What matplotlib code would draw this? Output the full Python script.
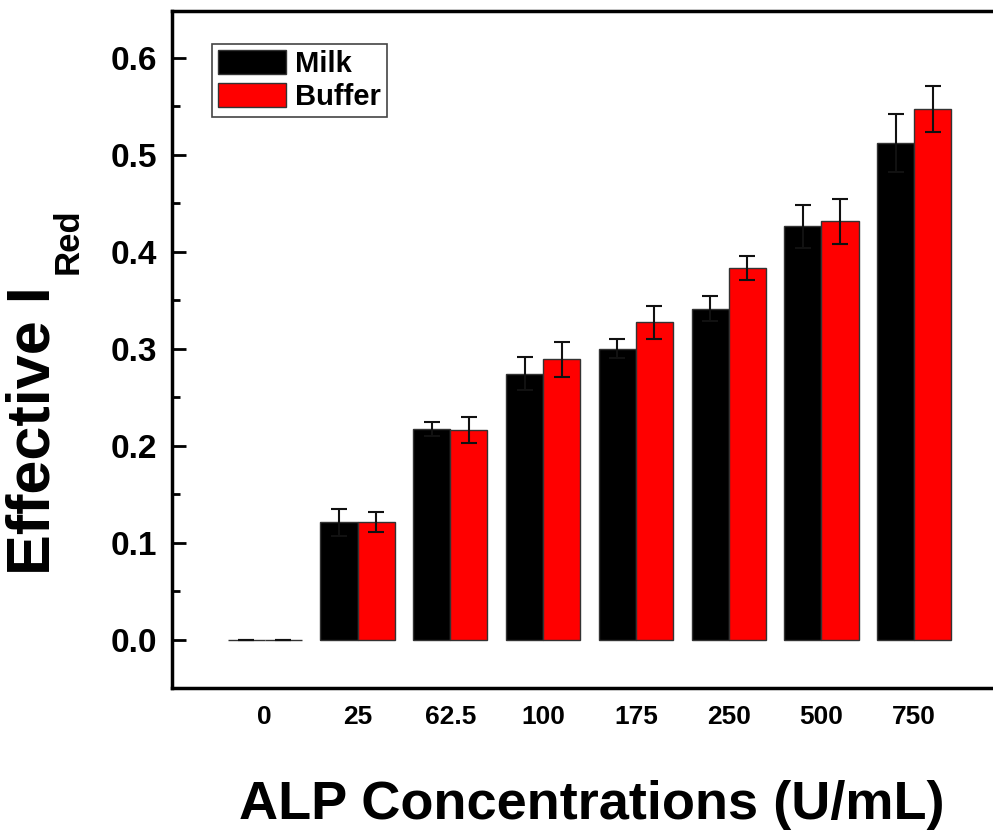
import numpy as np
import matplotlib
matplotlib.use("Agg")
import matplotlib.pyplot as plt

plt.rcParams['font.family'] = ['Liberation Sans', 'DejaVu Sans']
plt.rcParams['font.weight'] = 'bold'

# ALP activity levels (U/mL) and measured effective red intensity
concentrations = ['0', '25', '62.5', '100', '175', '250', '500', '750']
milk = [0.0, 0.121, 0.217, 0.274, 0.300, 0.341, 0.426, 0.512]
milk_err = [0.0, 0.014, 0.007, 0.017, 0.010, 0.013, 0.022, 0.030]
buffer = [0.0, 0.121, 0.216, 0.289, 0.327, 0.383, 0.431, 0.547]
buffer_err = [0.0, 0.010, 0.013, 0.018, 0.017, 0.012, 0.023, 0.024]

W, H = 993, 831
fig = plt.figure(figsize=(W / 100, H / 100), dpi=100)
# right spine sits just past the canvas edge
ax = fig.add_axes([172 / W, 1 - 688 / H, (1007 - 172) / W, (688 - 11) / H])

x = np.arange(len(concentrations))
w = 0.4
err_kw = dict(ecolor='#111111', elinewidth=1.5, capsize=6, capthick=1.5)
ax.bar(x - w / 2, milk, w, yerr=milk_err, color='black', edgecolor='#333333',
       linewidth=1, label='Milk', error_kw=err_kw)
ax.bar(x + w / 2, buffer, w, yerr=buffer_err, color='#ff0000', edgecolor='#333333',
       linewidth=1, label='Buffer', error_kw=err_kw)

ax.set_xlim(-1, 8)
ax.set_ylim(-0.05, 0.648)
ax.set_xticks(x)
ax.set_xticklabels(concentrations)
yt = np.arange(0, 0.61, 0.1)
ax.set_yticks(yt)
ax.set_yticklabels([f'{v:.1f}' for v in yt])
ax.set_yticks(np.arange(-0.05, 0.65, 0.05), minor=True)

for s in ax.spines.values():
    s.set_linewidth(2.5)
ax.tick_params(axis='y', which='major', direction='in', length=10, width=2,
               labelsize=24, pad=11)
ax.tick_params(axis='y', which='minor', direction='in', length=6, width=2)
ax.tick_params(axis='x', which='both', length=0, labelsize=19, pad=12)

# axis titles
fig.text(592 / W, 1 - 819 / H, 'ALP Concentrations (U/mL)', fontsize=39,
         fontweight='bold', ha='center', va='baseline')
fig.text(50 / W, 1 - 575 / H, 'Effective I', fontsize=44, fontweight='bold',
         rotation=90, rotation_mode='anchor', ha='left', va='baseline')
fig.text(78 / W, 1 - 274 / H, 'Red', fontsize=25, fontweight='bold',
         rotation=90, rotation_mode='anchor', ha='left', va='baseline')

leg = ax.legend(loc='upper left', bbox_to_anchor=(0.048, 0.951), fontsize=21,
                frameon=True, fancybox=False, edgecolor='#444444', framealpha=1,
                handlelength=2.35, handleheight=0.9, handletextpad=0.3,
                borderpad=0.2, labelspacing=0.15, borderaxespad=0)
leg.get_frame().set_linewidth(1.2)

fig.savefig('out.png', dpi=100)
